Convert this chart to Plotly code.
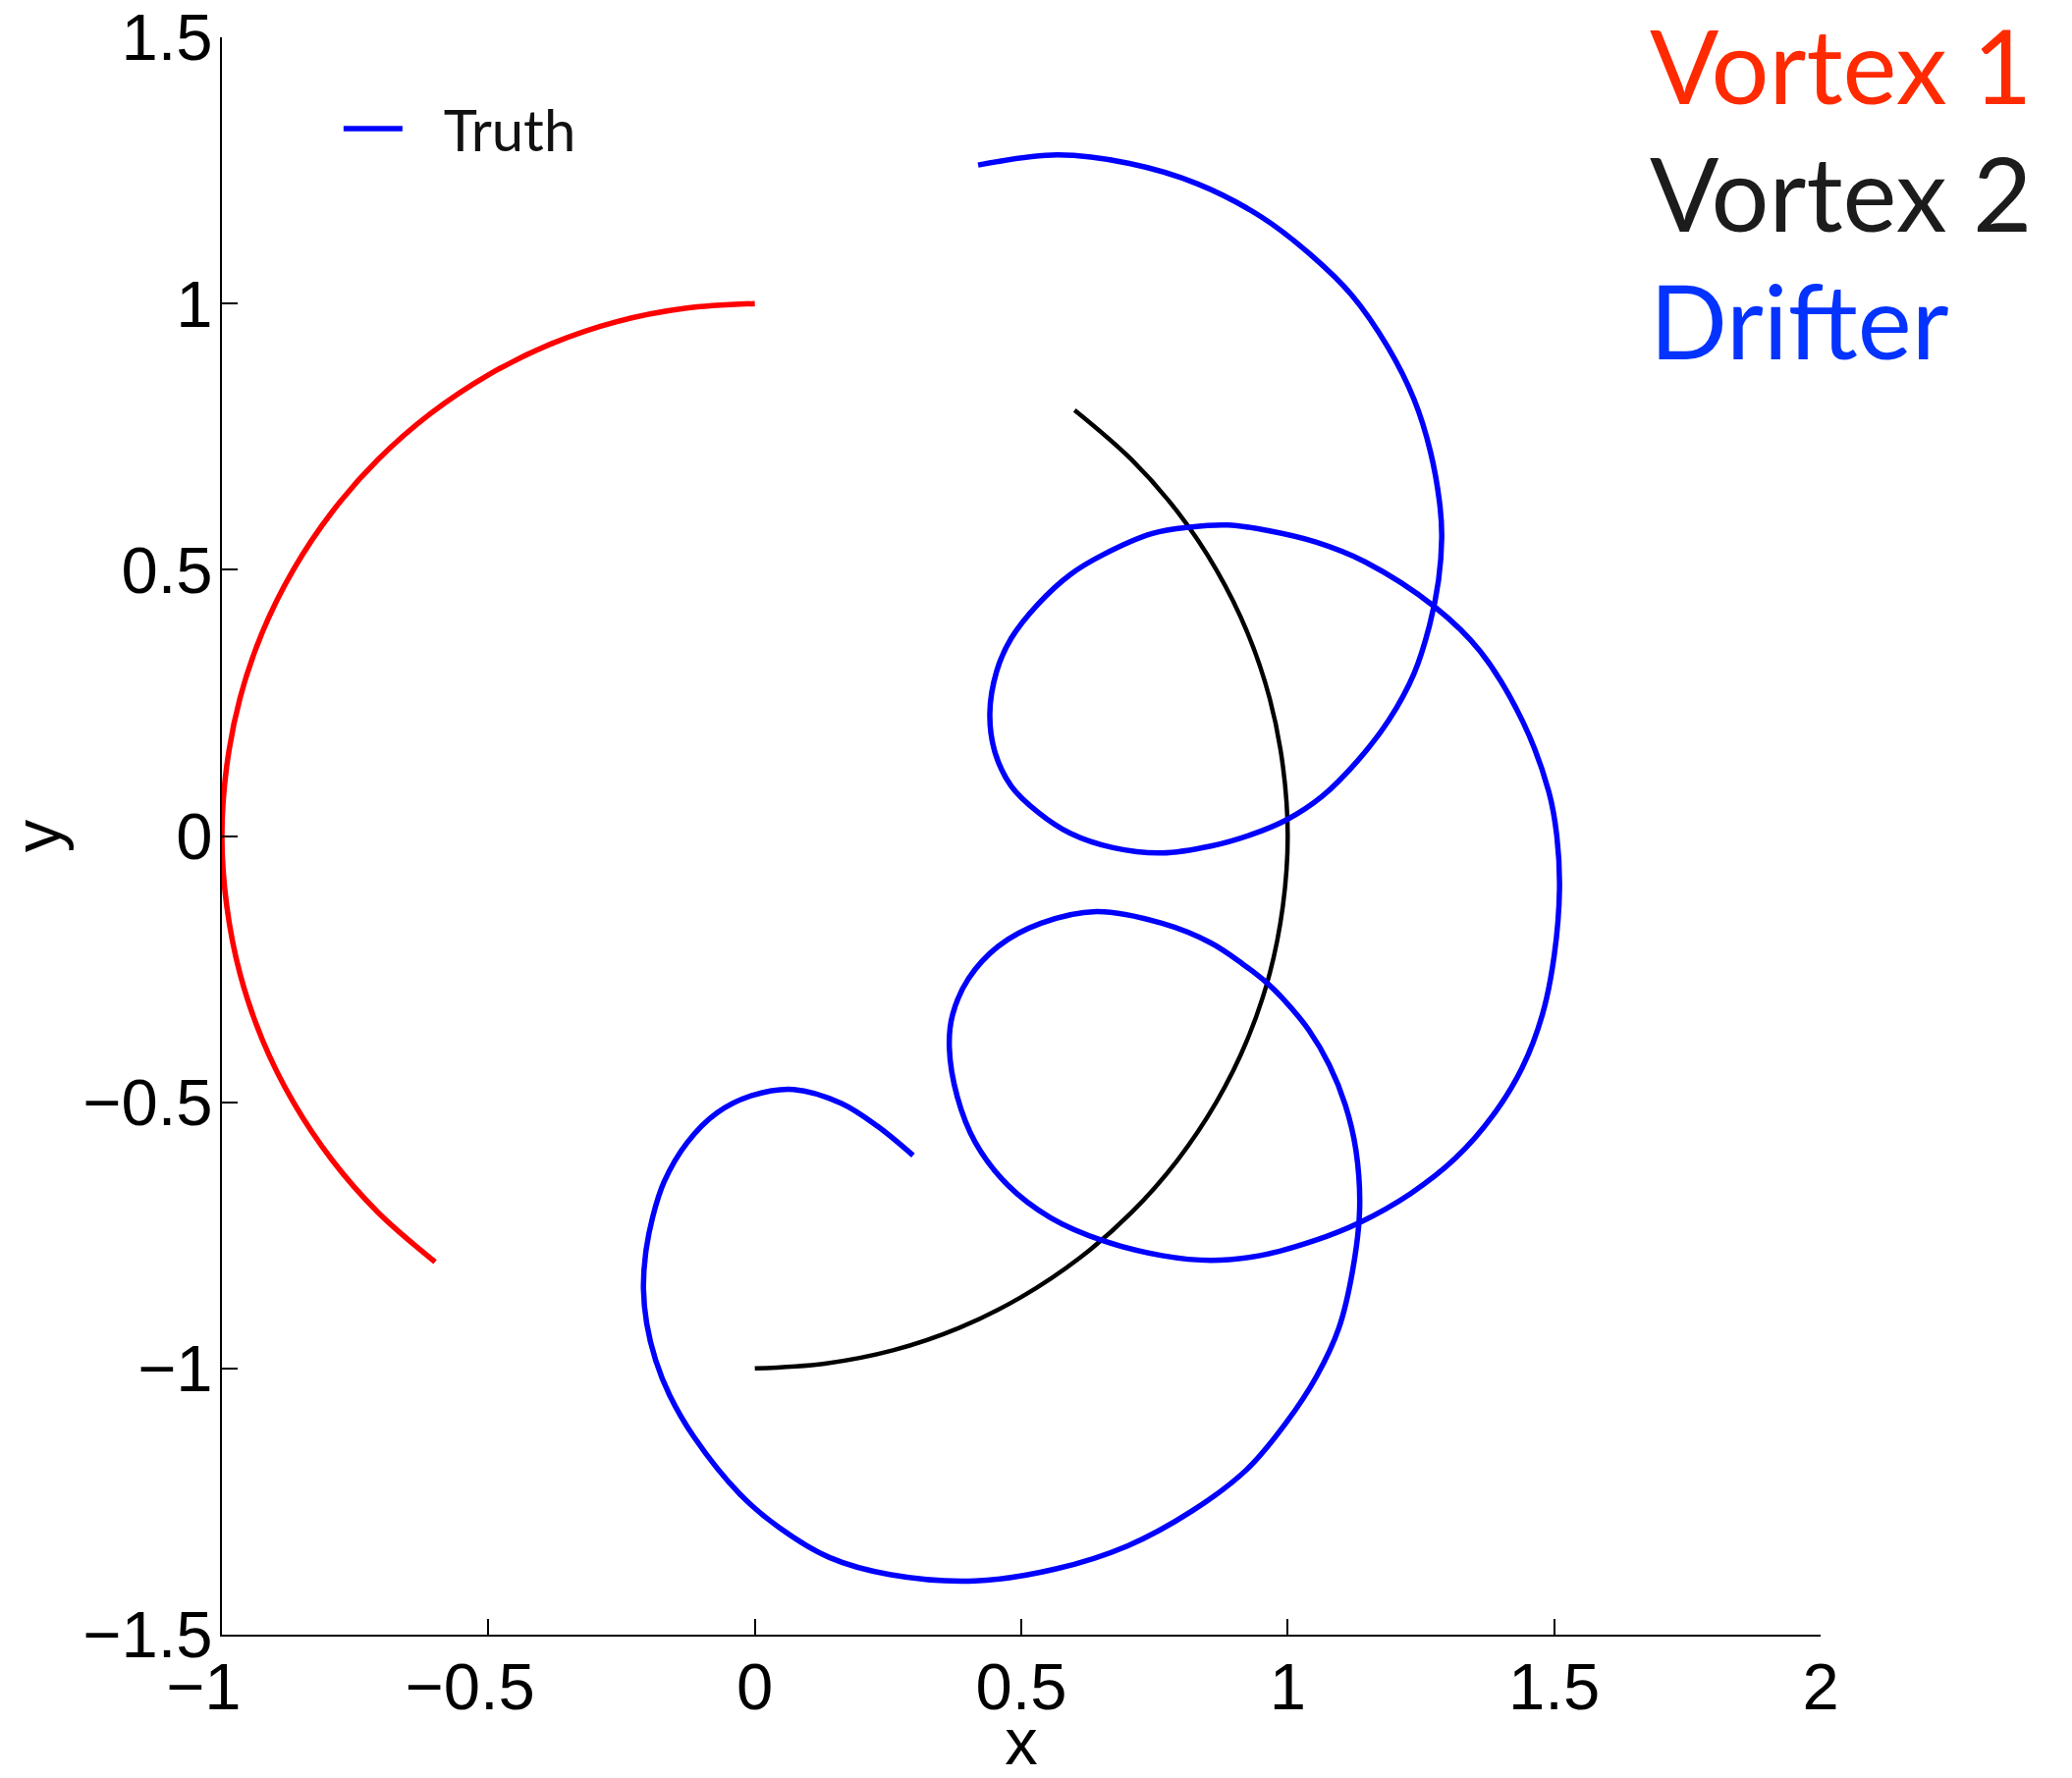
import plotly.graph_objects as go

# Vortex 1 trajectory (red)
vortex1_x = [0.000, -0.131, -0.259, -0.383, -0.500, -0.609, -0.707, -0.793, -0.866, -0.924,
             -0.966, -0.991, -1.000, -0.991, -0.966, -0.924, -0.866, -0.793, -0.707, -0.600]
vortex1_y = [1.000, 0.991, 0.966, 0.924, 0.866, 0.793, 0.707, 0.609, 0.500, 0.383,
             0.259, 0.131, 0.000, -0.131, -0.259, -0.383, -0.500, -0.609, -0.707, -0.800]

# Vortex 2 trajectory (black)
vortex2_x = [0.600, 0.707, 0.793, 0.866, 0.924, 0.966, 0.991, 1.000, 0.991, 0.966,
             0.924, 0.866, 0.793, 0.707, 0.609, 0.500, 0.383, 0.259, 0.131, 0.000]
vortex2_y = [0.800, 0.707, 0.609, 0.500, 0.383, 0.259, 0.131, 0.000, -0.131, -0.259,
             -0.383, -0.500, -0.609, -0.707, -0.793, -0.866, -0.924, -0.966, -0.991, -1.000]

# Drifter trajectory (blue)
drifter_x = [0.297, 0.230, 0.162, 0.073, -0.004, -0.071, -0.127, -0.170, -0.192, -0.205,
             -0.209, -0.203, -0.186, -0.160, -0.114, -0.029, 0.046, 0.140, 0.253, 0.413,
             0.563, 0.700, 0.820, 0.923, 0.997, 1.054, 1.096, 1.122, 1.135, 1.128,
             1.108, 1.078, 1.040, 0.995, 0.961, 0.915, 0.856, 0.764, 0.641, 0.537,
             0.457, 0.401, 0.371, 0.365, 0.380, 0.414, 0.475, 0.555, 0.653, 0.764,
             0.856, 0.948, 1.050, 1.135, 1.230, 1.315, 1.385, 1.440, 1.478, 1.500,
             1.510, 1.505, 1.490, 1.441, 1.361, 1.275, 1.145, 1.053, 0.961, 0.887,
             0.816, 0.746, 0.653, 0.592, 0.531, 0.481, 0.454, 0.441, 0.451, 0.481,
             0.531, 0.592, 0.672, 0.764, 0.856, 0.930, 0.997, 1.065, 1.130, 1.190,
             1.237, 1.266, 1.283, 1.289, 1.286, 1.268, 1.237, 1.188, 1.120, 1.045,
             0.950, 0.830, 0.703, 0.567, 0.419]
drifter_y = [-0.600, -0.545, -0.502, -0.476, -0.487, -0.520, -0.576, -0.649, -0.717, -0.785,
             -0.850, -0.915, -0.985, -1.050, -1.129, -1.235, -1.299, -1.355, -1.387, -1.399,
             -1.377, -1.333, -1.268, -1.190, -1.102, -1.015, -0.924, -0.815, -0.700, -0.590,
             -0.505, -0.430, -0.365, -0.310, -0.276, -0.240, -0.201, -0.164, -0.142, -0.164,
             -0.207, -0.268, -0.336, -0.397, -0.490, -0.576, -0.656, -0.717, -0.760, -0.788,
             -0.797, -0.788, -0.760, -0.726, -0.672, -0.605, -0.525, -0.435, -0.335, -0.225,
             -0.100, 0.000, 0.083, 0.215, 0.347, 0.431, 0.515, 0.552, 0.574, 0.584,
             0.580, 0.568, 0.528, 0.491, 0.435, 0.371, 0.310, 0.230, 0.156, 0.094,
             0.045, 0.005, -0.022, -0.032, -0.019, 0.002, 0.030, 0.075, 0.140, 0.218,
             0.305, 0.395, 0.480, 0.560, 0.617, 0.721, 0.820, 0.918, 1.016, 1.090,
             1.163, 1.225, 1.263, 1.279, 1.260]

# Tick labels; negative x labels get trailing padding so the digits sit centred on the tick
x_ticks = [-1, -0.5, 0, 0.5, 1, 1.5, 2]
x_tick_text = ["\u22121\u00a0\u00a0", "\u22120.5\u00a0\u00a0", "0", "0.5", "1", "1.5", "2"]
y_ticks = [-1.5, -1, -0.5, 0, 0.5, 1, 1.5]
y_tick_text = ["\u22121.5", "\u22121", "\u22120.5", "0", "0.5", "1", "1.5"]

labels = ["Vortex 1", "Vortex 2", "Drifter"]
label_colors = ["#FF2A00", "#1C1C1C", "#0433FF"]
label_y = [0.983, 0.903, 0.823]

fig = go.Figure()
fig.add_trace(go.Scatter(x=vortex1_x, y=vortex1_y, mode="lines", showlegend=False,
                         line=dict(color="#FF0000", width=5.5, shape="spline", simplify=False)))
fig.add_trace(go.Scatter(x=vortex2_x, y=vortex2_y, mode="lines", showlegend=False,
                         line=dict(color="#000000", width=4.5, shape="spline", simplify=False)))
fig.add_trace(go.Scatter(x=drifter_x, y=drifter_y, mode="lines",
                         name="\u00a0\u00a0\u2009Truth",
                         line=dict(color="#0000FF", width=5.5, shape="spline", simplify=False)))

for txt, col, yy in zip(labels, label_colors, label_y):
    fig.add_annotation(text=txt, xref="paper", yref="paper", x=0.892, y=yy,
                       xanchor="left", yanchor="middle", showarrow=False,
                       font=dict(family="Lato", size=104, color=col))

axis_font = dict(family="Liberation Sans, Arial", size=67, color="#000000")
fig.update_layout(
    width=2110, height=1811,
    margin=dict(l=226, r=256, t=38, b=146),
    paper_bgcolor="white", plot_bgcolor="white",
    legend=dict(x=0.073, y=0.970, xanchor="left", yanchor="top",
                bgcolor="rgba(0,0,0,0)", font=dict(family="Lato", size=58, color="#111111"),
                itemwidth=60),
    xaxis=dict(range=[-1, 2], tickvals=x_ticks, ticktext=x_tick_text, automargin=False,
               showline=True, linecolor="#000000", linewidth=2, mirror=False,
               ticks="inside", ticklen=16, tickwidth=1.5, tickcolor="#000000",
               ticklabelstandoff=-6,
               showgrid=False, zeroline=False, tickfont=axis_font,
               title=dict(text="x", font=axis_font)),
    yaxis=dict(range=[-1.5, 1.5], tickvals=y_ticks, ticktext=y_tick_text, automargin=False,
               showline=True, linecolor="#000000", linewidth=2, mirror=False,
               ticks="inside", ticklen=16, tickwidth=1.5, tickcolor="#000000",
               ticklabelstandoff=-6,
               showgrid=False, zeroline=False, tickfont=axis_font,
               title=dict(text="y", font=axis_font, standoff=12)),
)

fig.write_html("out.html")
